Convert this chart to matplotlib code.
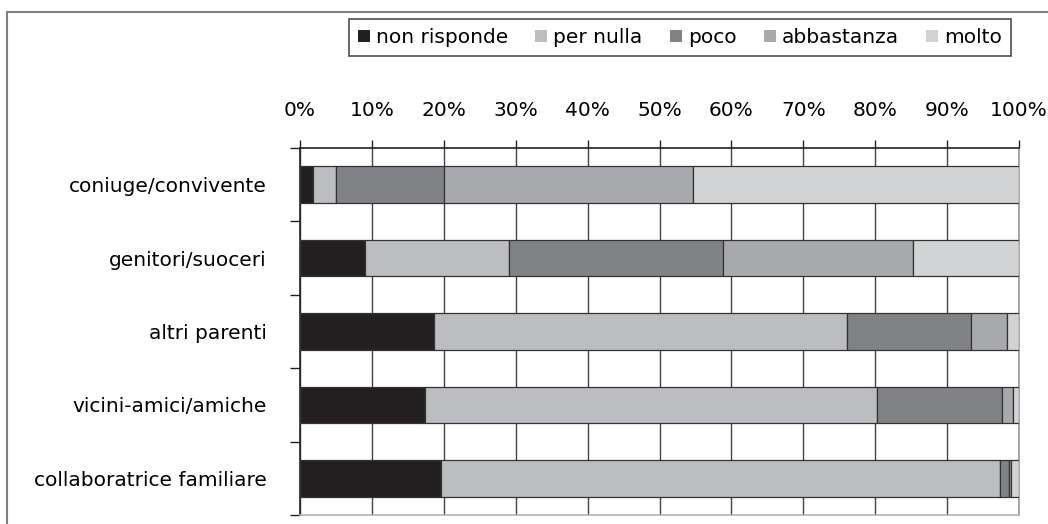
import numpy as np
import matplotlib.pyplot as plt
from matplotlib.patches import Rectangle
from matplotlib.ticker import FixedLocator, PercentFormatter

# percentuali per categoria (riga) e risposta (colonna)
categorie = ["coniuge/convivente", "genitori/suoceri", "altri parenti",
             "vicini-amici/amiche", "collaboratrice familiare"]
risposte = ["non risponde", "per nulla", "poco", "abbastanza", "molto"]
non_risponde = [1.8, 9.0, 18.7, 17.4, 19.6]
per_nulla = [3.2, 20.0, 57.4, 62.8, 77.8]
poco = [15.0, 29.8, 17.2, 17.5, 1.2]
abbastanza = [34.7, 26.4, 5.0, 1.4, 0.3]
molto = [45.3, 14.8, 1.7, 0.9, 1.1]
colori = ["#231f20", "#bcbdc0", "#808285", "#a7a9ac", "#d1d3d4"]

serie = [non_risponde, per_nulla, poco, abbastanza, molto]

fig = plt.figure(figsize=(10.48, 5.24), dpi=100)
ax = fig.add_axes([300/1048, 1 - 515/524, 719/1048, 367/524])

# cornice esterna
fig.patches.append(Rectangle((7/1048, -0.1), 1.2, 1 - 12/524 + 0.1,
                             transform=fig.transFigure, fill=False,
                             edgecolor="#808080", linewidth=1.5))

y = np.arange(len(categorie))
left = np.zeros(len(categorie))
for nome, valori, col in zip(risposte, serie, colori):
    ax.barh(y, valori, left=left, height=0.5, color=col, edgecolor="#333333",
            linewidth=0.9, label=nome, zorder=3)
    left += np.array(valori)

ax.set_xlim(0, 100)
ax.set_ylim(len(categorie) - 0.5, -0.5)
ax.set_xticks(np.arange(0, 101, 10))
ax.xaxis.set_major_formatter(PercentFormatter(decimals=0))
ax.xaxis.tick_top()
ax.grid(axis="x", color="#444444", linewidth=1, zorder=0)
ax.tick_params(axis="x", direction="out", length=6, width=1, pad=14,
               labelsize=14.5, color="#222222")

ax.set_yticks(y)
ax.set_yticklabels(categorie)
ax.yaxis.set_minor_locator(FixedLocator(np.arange(-0.5, len(categorie), 1)))
ax.tick_params(axis="y", which="major", length=0, pad=24, labelsize=14.5)
ax.tick_params(axis="y", which="minor", length=7, width=1, color="#222222")

ax.spines["top"].set_color("#222222")
ax.spines["left"].set_color("#222222")
ax.spines["right"].set_color("#9a9a9a")
ax.spines["bottom"].set_color("#b0b0b0")
for s in ax.spines.values():
    s.set_linewidth(1.2)

leg = fig.legend(loc="center", bbox_to_anchor=(680/1048, 1 - 37.5/524),
                 ncol=5, fontsize=14.5, frameon=True, fancybox=False,
                 handlelength=0.6, handleheight=0.6, handletextpad=0.3,
                 columnspacing=1.35, borderpad=0.45, borderaxespad=0)
leg.get_frame().set_edgecolor("#222222")
leg.get_frame().set_linewidth(1.2)
for h in leg.legend_handles:
    h.set_edgecolor("none")

fig.savefig("out.png", dpi=100)
